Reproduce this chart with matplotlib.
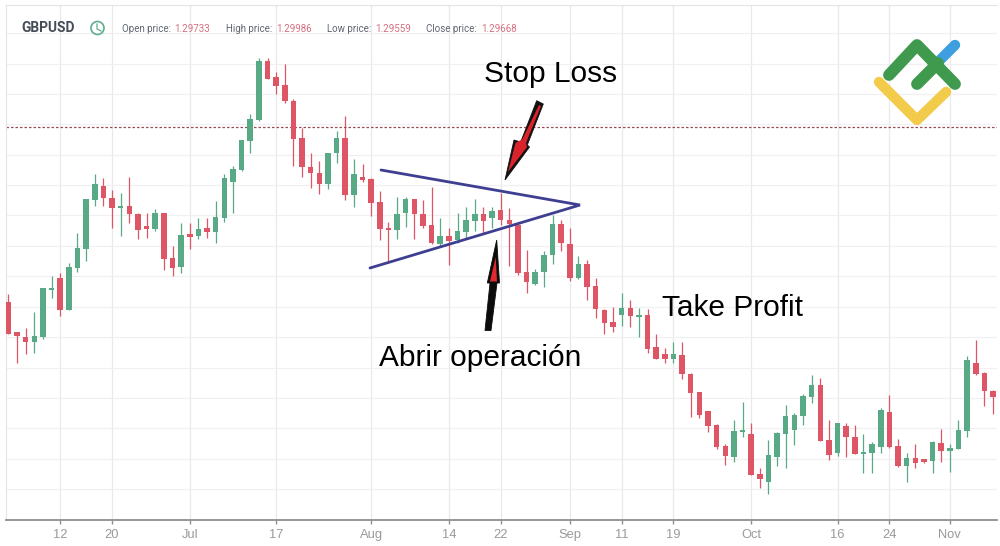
import matplotlib
matplotlib.use("Agg")
import matplotlib.pyplot as plt
import numpy as np
from matplotlib.patches import Polygon, Circle

plt.rcParams['font.family'] = ['Liberation Sans', 'DejaVu Sans']

# candle values in chart levels (no price scale is printed on the chart)
opens = [218, 188, 183, 178, 183, 230, 242, 210, 252, 271, 320, 334, 322, 312, 314, 306, 294, 291, 307, 262,
         253, 286, 284, 292, 288, 302, 338, 350, 379, 400, 459, 443, 435, 419, 382, 353, 347, 336, 367, 382,
         325, 343, 341, 318, 292, 290, 307, 321, 306, 295, 276, 284, 280, 288, 299, 306, 302, 310, 300, 295,
         248, 236, 248, 265, 296, 276, 242, 256, 234, 210, 198, 205, 212, 203, 205, 173, 166, 161, 165, 146,
         128, 109, 95, 74, 63, 88, 86, 46, 38, 63, 86, 90, 104, 123, 135, 80, 67, 94, 83, 66,
         67, 73, 108, 74, 54, 62, 61, 59, 77, 69, 71, 89, 157, 147, 129]
highs = [226, 188, 192, 208, 232, 244, 247, 257, 287, 321, 346, 342, 330, 327, 343, 307, 307, 311, 307, 274,
         297, 297, 302, 302, 319, 346, 354, 380, 406, 462, 462, 448, 456, 421, 392, 367, 359, 367, 389, 404,
         361, 356, 342, 329, 298, 323, 323, 321, 320, 333, 302, 292, 307, 313, 321, 313, 313, 327, 312, 297,
         270, 251, 269, 305, 300, 292, 264, 260, 242, 211, 213, 227, 220, 212, 211, 186, 172, 178, 178, 147,
         128, 109, 96, 76, 100, 118, 97, 52, 80, 88, 115, 107, 126, 145, 142, 100, 97, 97, 95, 86,
         78, 112, 125, 81, 67, 76, 61, 79, 91, 76, 100, 164, 180, 148, 130]
lows = [186, 157, 166, 167, 181, 222, 204, 210, 248, 259, 314, 314, 292, 284, 297, 281, 282, 289, 250, 244,
        247, 271, 281, 282, 277, 298, 307, 349, 367, 399, 441, 426, 417, 354, 343, 332, 326, 331, 357, 320,
        313, 338, 304, 280, 257, 281, 293, 281, 292, 276, 274, 255, 277, 282, 289, 287, 292, 295, 254, 245,
        227, 235, 233, 256, 269, 239, 241, 220, 202, 186, 188, 194, 193, 183, 167, 161, 157, 157, 141, 103,
        102, 88, 71, 55, 58, 83, 45, 32, 26, 54, 52, 75, 95, 117, 79, 60, 64, 63, 66, 47,
        47, 67, 72, 53, 38, 52, 57, 47, 58, 48, 71, 83, 145, 114, 106]
closes = [186, 184, 178, 184, 232, 232, 210, 253, 272, 321, 336, 322, 312, 314, 306, 290, 291, 307, 261, 252,
          285, 283, 291, 288, 303, 342, 351, 380, 401, 459, 441, 434, 419, 381, 353, 347, 336, 367, 382, 325,
          346, 340, 317, 291, 290, 306, 321, 306, 294, 277, 284, 279, 289, 300, 306, 299, 309, 300, 296, 247,
          238, 248, 265, 296, 277, 242, 256, 233, 211, 197, 193, 212, 204, 205, 171, 161, 161, 166, 146, 127,
          105, 94, 73, 64, 89, 90, 45, 41, 65, 87, 104, 105, 124, 135, 79, 65, 97, 83, 66, 68,
          76, 110, 73, 54, 62, 57, 58, 78, 69, 72, 90, 160, 146, 129, 123]

tick_idx = [6, 12, 21, 31, 42, 51, 57, 65, 71, 77, 86, 96, 102, 109]
tick_labels = ['12', '20', 'Jul', '17', 'Aug', '14', '22', 'Sep', '11', '19', 'Oct', '16', '24', 'Nov']
grid_levels = [31, 61, 92, 122, 152, 183, 213, 244, 274, 305, 335, 365, 396, 426, 456, 487]
last_level = 393

pair = 'GBPUSD'
ohlc_names = ['Open price:', 'High price:', 'Low price:', 'Close price:']
ohlc_values = ['1.29733', '1.29986', '1.29559', '1.29668']

GREEN = '#58a985'
RED = '#de5565'
GRID = '#f0f0f2'

W, H = 1000, 546
fig = plt.figure(figsize=(W / 100, H / 100), dpi=100)

# main axes, 1 level = 1 px
ax = fig.add_axes([5.5 / W, 1 - 519.5 / H, (997 - 5.5) / W, (519.5 - 5) / H])
step = 8.637
ax.set_xlim((5.5 - 8.4) / step, (997 - 8.4) / step)
ax.set_ylim(0, 514.5)

ax.set_yticks(grid_levels)
ax.set_xticks(tick_idx)
ax.set_xticklabels(tick_labels)
ax.grid(True, color=GRID, lw=0.9)
ax.grid(True, axis='x', color='#e9e9ec', lw=0.9)
ax.set_axisbelow(True)
ax.tick_params(axis='y', length=0, labelleft=False)
ax.tick_params(axis='x', length=3, width=1, color='#8f8f8f', labelcolor='#9a9a9a', labelsize=9.3, pad=3.5)
ax.spines['right'].set_visible(False)
ax.spines['left'].set_color('#e4e4e6')
ax.spines['top'].set_color('#e4e4e6')
ax.spines['bottom'].set_color('#8f8f8f')
ax.spines['bottom'].set_linewidth(1.3)

o = np.array(opens)
c = np.array(closes)
colors = [GREEN if cl >= op else RED for op, cl in zip(o, c)]
idx = np.arange(len(o))
ax.vlines(idx, lows, highs, colors=colors, lw=0.9, zorder=2)
ax.bar(idx, np.maximum(np.abs(c - o), 2), bottom=np.minimum(o, c), width=0.64, color=colors, lw=0, zorder=3)

ax.axhline(last_level, color='#9c4a56', lw=0.9, ls=(0, (2, 1.6)), zorder=2)

# overlay in image pixels for the drawn annotations, logo and header
ov = fig.add_axes([0, 0, 1, 1])
ov.set_xlim(0, W)
ov.set_ylim(H, 0)
ov.axis('off')
ov.patch.set_alpha(0)

# triangle
NAVY = '#3f3f92'
ov.plot([381, 580, 370], [170, 205, 268], color=NAVY, lw=2, solid_capstyle='round', solid_joinstyle='miter')

# arrows
ov.add_patch(Polygon([(536.7, 100.7), (543.3, 104), (527.3, 145), (529.5, 147), (505, 180), (514, 140), (520.7, 142)],
                     closed=True, fc='#111111', ec='#111111', lw=0.6))
ov.add_patch(Polygon([(539, 105), (541, 106), (526, 143), (527, 147), (508, 172), (515.5, 143), (522.5, 139)],
                     closed=True, fc='#d8232c', ec='none'))
ov.add_patch(Polygon([(485, 330.5), (491, 330.5), (497, 283), (499.5, 283), (496.7, 240), (487.3, 283), (490, 283)],
                     closed=True, fc='#0c0c0c', ec='#0c0c0c', lw=0.6))
ov.add_patch(Polygon([(490, 281.5), (497, 281.5), (495.7, 257)], closed=True, fc='#e02a2e', ec='none'))

# captions
ov.text(551, 74, 'Stop Loss', fontsize=21.5, color='black', ha='center', va='center')
ov.text(732.5, 307.5, 'Take Profit', fontsize=21.5, color='black', ha='center', va='center')
ov.text(480.5, 358, 'Abrir operación', fontsize=21.5, color='black', ha='center', va='center')

# logo
ov.plot([889, 917, 955], [75, 45, 84], color='#3f9a4d', lw=8.5, solid_capstyle='round', solid_joinstyle='round', zorder=4)
ov.plot([917, 938], [84, 63], color='#3f9a4d', lw=8.5, solid_capstyle='round', zorder=4)
ov.plot([938, 955], [62, 45], color='#3e9fe0', lw=7.5, solid_capstyle='round', zorder=3)
ov.plot([879, 917, 946], [82, 120, 92], color='#f3cb4a', lw=7.5, solid_capstyle='round', solid_joinstyle='round', zorder=4)

# header
ov.text(21, 28, pair, fontsize=9.9, fontweight='bold', color='#454c57', va='center', family=['Roboto', 'DejaVu Sans'])
ov.add_patch(Circle((97.5, 28), 6.5, fc='none', ec='#5fae8f', lw=1.2))
ov.plot([97, 97, 101], [24, 29, 31], color='#5fae8f', lw=0.9)
for xn, xv, name, val in zip([122, 226, 327, 426], [174, 276, 375, 481], ohlc_names, ohlc_values):
    ov.text(xn, 28.5, name, fontsize=7, color='#5f6670', va='center', family=['Roboto', 'DejaVu Sans'])
    ov.text(xv, 28.5, val, fontsize=7, color='#d4707f', va='center', family=['Roboto', 'DejaVu Sans'])

fig.savefig('out.png', dpi=100)
